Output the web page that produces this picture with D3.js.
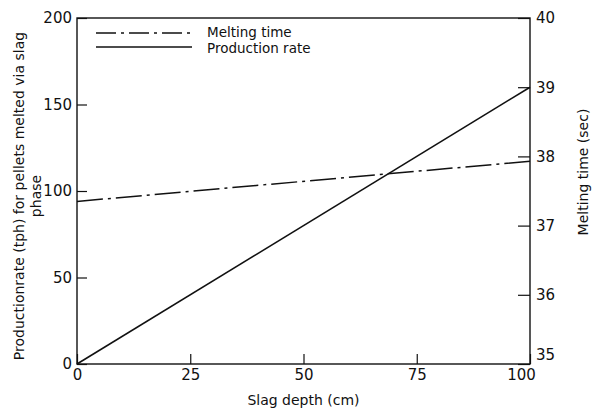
<!DOCTYPE html>
<html>
<head>
<meta charset="utf-8">
<script src="https://cdn.jsdelivr.net/npm/d3@7"></script>
<style>
  body { margin: 0; background: #fff; }
  svg text { font-family: "DejaVu Sans", sans-serif; fill: #111; }
</style>
</head>
<body>
<div class="chart"></div>
<script>
const slagDepth = [0, 100]
const productionRate = [0, 160]
const meltingTime = [37.35, 37.93]

const xTicks = [0, 25, 50, 75, 100]
const leftTicks = [0, 50, 100, 150, 200]
const rightTicks = [35, 36, 37, 38, 39, 40]

const margin = { top: 18, right: 68, bottom: 46, left: 77 }
const width = 598
const height = 410
const plotW = width - margin.left - margin.right
const plotH = height - margin.top - margin.bottom

const svg = d3.select('.chart').append('svg')
    .attr('width', width)
    .attr('height', height)

const g = svg.append('g')
    .attr('transform', `translate(${margin.left},${margin.top})`)

const xScale = d3.scaleLinear().domain([0, 100]).range([0, plotW])
const yLeft = d3.scaleLinear().domain([0, 200]).range([plotH, 0])
const yRight = d3.scaleLinear().domain([35, 40]).range([plotH, 0])

// frame
g.append('rect')
    .attr('width', plotW).attr('height', plotH)
    .attr('fill', 'none').attr('stroke', '#111').attr('stroke-width', 1.4)

// axes, ticks pointing inwards
const xAxis = d3.axisBottom(xScale).tickValues(xTicks).tickSizeInner(-10).tickSizeOuter(0).tickPadding(5)
const leftAxis = d3.axisLeft(yLeft).tickValues(leftTicks).tickSizeInner(-10).tickSizeOuter(0).tickPadding(5)
const rightAxis = d3.axisRight(yRight).tickValues(rightTicks).tickFormat(d3.format('d'))
    .tickSizeInner(-12).tickSizeOuter(0).tickPadding(6)

const styleAxis = sel => {
    sel.select('.domain').remove()
    sel.selectAll('line').attr('stroke', '#111').attr('stroke-width', 1.2)
    sel.selectAll('text').style('font-size', '15px').attr('fill', '#111')
}

const gx = g.append('g').attr('transform', `translate(0,${plotH})`).call(xAxis).call(styleAxis)
g.append('g').call(leftAxis).call(styleAxis)
const gr = g.append('g').attr('transform', `translate(${plotW},0)`).call(rightAxis).call(styleAxis)

// corner labels are nudged apart like in the original
gx.selectAll('text').filter(d => d === 100).attr('dx', -9)
gr.selectAll('text').filter(d => d === 35).attr('dy', '-0.05em').attr('y', -4)

// lines
const prodLine = d3.line()
    .x((d, i) => xScale(slagDepth[i]))
    .y(d => yLeft(d))
const meltLine = d3.line()
    .x((d, i) => xScale(slagDepth[i]))
    .y(d => yRight(d))

g.append('path')
    .datum(productionRate)
    .attr('d', prodLine)
    .attr('fill', 'none').attr('stroke', '#111').attr('stroke-width', 1.6)

g.append('path')
    .datum(meltingTime)
    .attr('d', meltLine)
    .attr('fill', 'none').attr('stroke', '#111').attr('stroke-width', 1.5)
    .attr('stroke-dasharray', '26,5,3,5')

// legend
const legend = g.append('g').attr('transform', 'translate(19,15)')
legend.append('line')
    .attr('x1', 0).attr('x2', 96).attr('y1', 0).attr('y2', 0)
    .attr('stroke', '#111').attr('stroke-width', 1.4).attr('stroke-dasharray', '20,5,3,5')
legend.append('text').attr('x', 111).attr('y', 4).style('font-size', '13.5px').text('Melting time')
legend.append('line')
    .attr('x1', 0).attr('x2', 96).attr('y1', 14).attr('y2', 14)
    .attr('stroke', '#111').attr('stroke-width', 1.4)
legend.append('text').attr('x', 111).attr('y', 20).style('font-size', '13.5px').text('Production rate')

// axis titles
svg.append('text')
    .attr('x', margin.left + plotW / 2).attr('y', 405)
    .attr('text-anchor', 'middle').style('font-size', '14px')
    .text('Slag depth (cm)')

const yTitle = svg.append('text')
    .attr('transform', `translate(24,${margin.top + plotH / 2 + 5}) rotate(-90)`)
    .attr('text-anchor', 'middle').style('font-size', '14px')
yTitle.append('tspan').attr('x', 0).attr('dy', 0).text('Productionrate (tph) for pellets melted via slag')
yTitle.append('tspan').attr('x', 0).attr('dy', 17).text('phase')

svg.append('text')
    .attr('transform', `translate(588,172) rotate(-90)`)
    .attr('text-anchor', 'middle').style('font-size', '14px')
    .text('Melting time (sec)')
</script>
</body>
</html>
